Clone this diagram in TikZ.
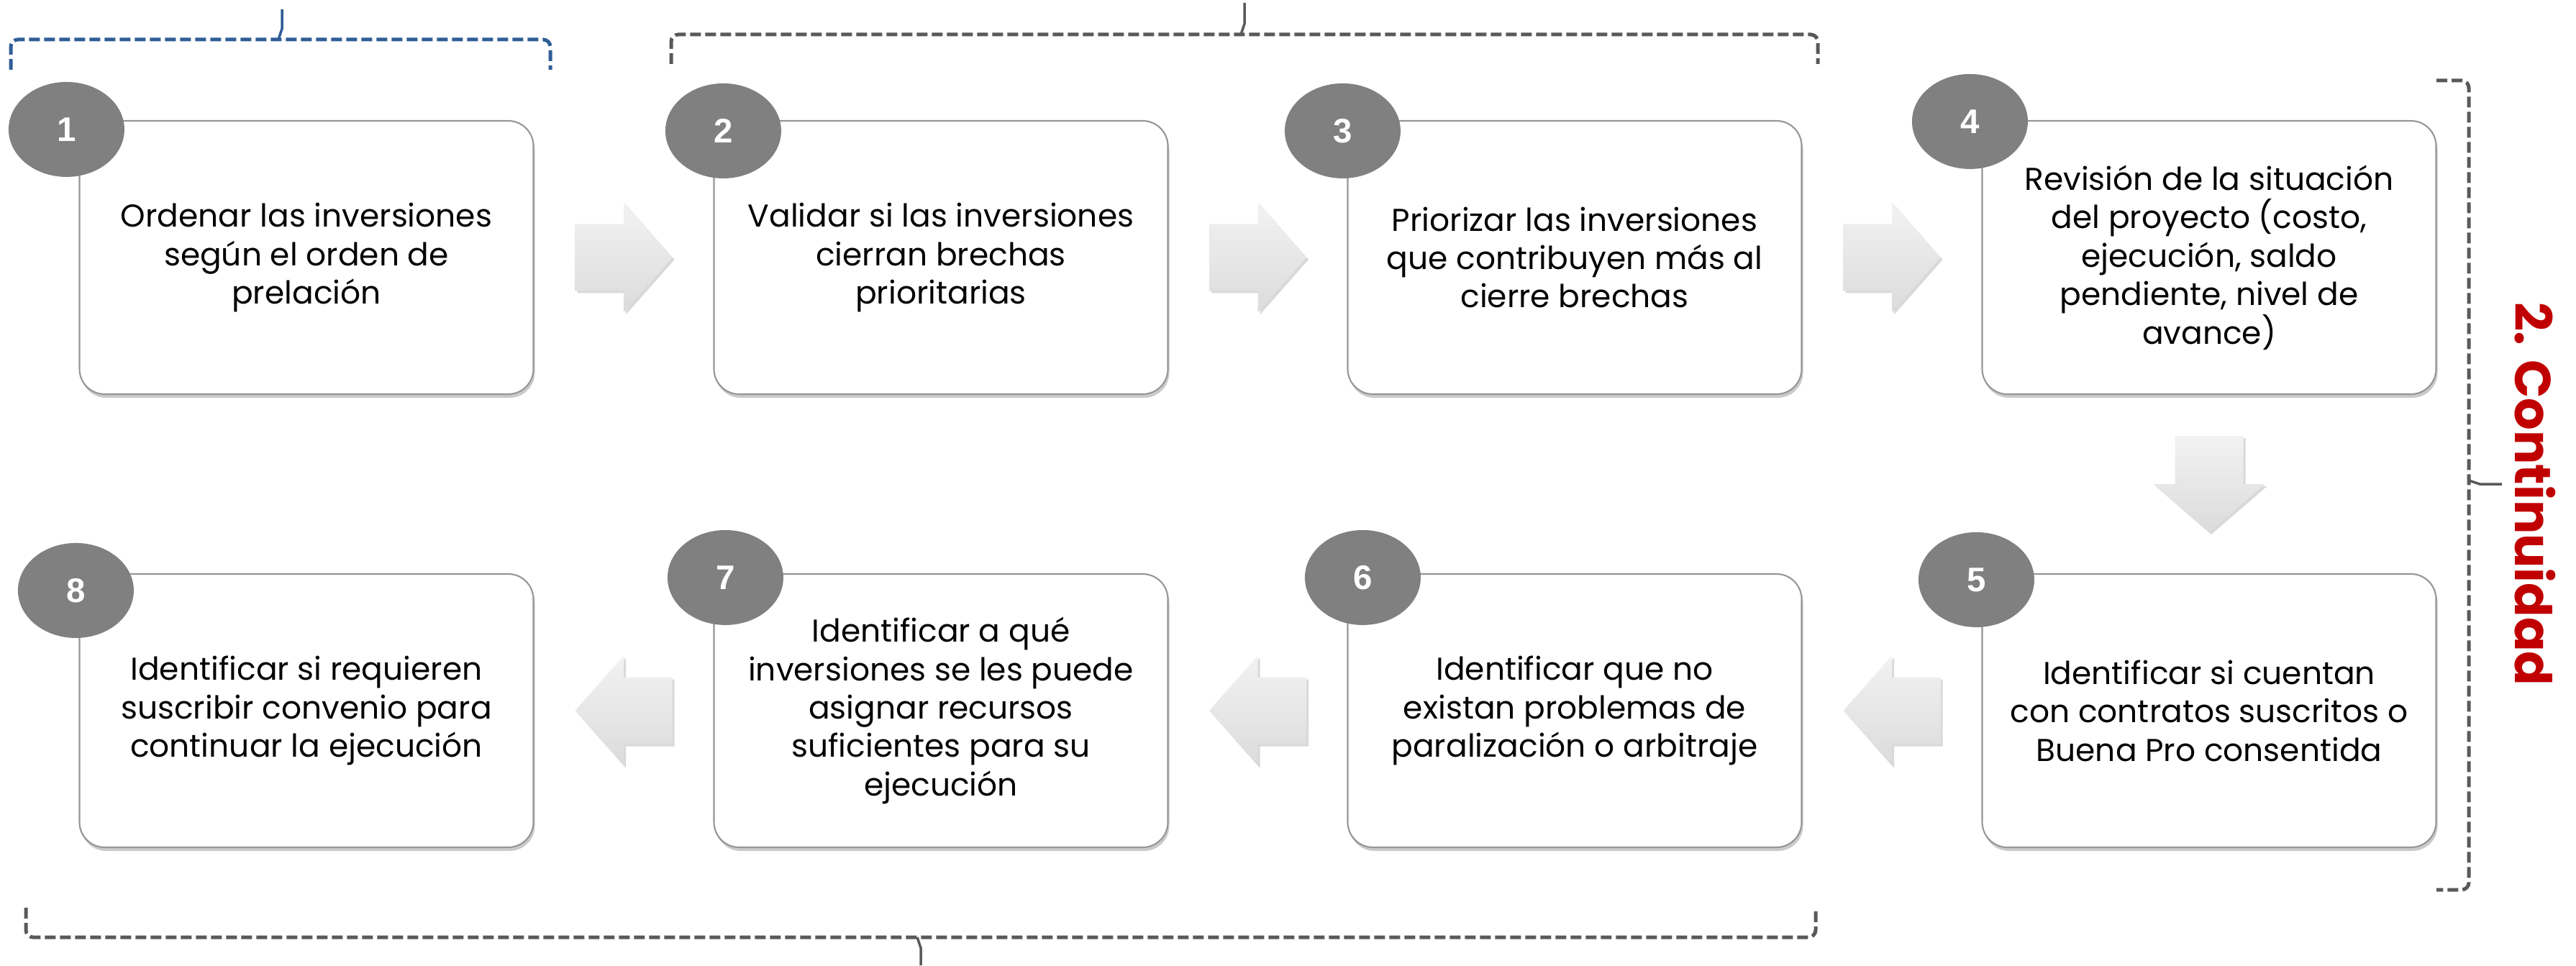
\documentclass[tikz,border=0pt]{standalone}
\usepackage{fontspec}
\setmainfont{Poppins}
\newfontfamily\numfont{Liberation Sans}
\usetikzlibrary{shapes.geometric,shadows,calc}
\definecolor{discgray}{RGB}{128,128,128}
\definecolor{boxline}{RGB}{150,150,150}
\definecolor{bracegray}{RGB}{89,89,89}
\definecolor{braceblue}{RGB}{47,93,150}
\definecolor{titlered}{RGB}{192,0,0}
\tikzset{caja/.style={rectangle,rounded corners=3.5mm,draw=boxline,line width=.6pt,fill=white,
    minimum width=63.1mm,minimum height=38mm,inner sep=0pt,align=center,
    font=\fontsize{12.5}{15.2}\selectfont,
    drop shadow={shadow xshift=.2mm,shadow yshift=-.5mm,opacity=.35,fill=black!60}},
  disco/.style={ellipse,fill=discgray,minimum width=16.1mm,minimum height=13.2mm,inner sep=0pt,
    text=white,font=\numfont\fontsize{13.5}{16}\selectfont\bfseries},
  llave/.style={dash pattern=on 1.5mm off .6mm,line width=.5mm,rounded corners=1mm},
  punta/.style={line width=.35mm},
  flechafill/.style={top color=gray!10,bottom color=gray!28,
    drop shadow={shadow xshift=.3mm,shadow yshift=-.3mm,opacity=.3,fill=black!50}},
  pics/flecha/.style={code={
    \path[flechafill] (-6.75,-4.65) -- (0,-4.65) -- (0,-7.65) -- (6.75,0) -- (0,7.65) -- (0,4.65) -- (-6.75,4.65) -- cycle;}},
  pics/flechabajo/.style={code={
    \path[flechafill] (-4.75,6.7) -- (4.75,6.7) -- (4.75,0) -- (7.75,0) -- (0,-6.7) -- (-7.75,0) -- (-4.75,0) -- cycle;}}}

\begin{document}
\begin{tikzpicture}[x=1mm,y=1mm]
  \path[use as bounding box] (0,0) rectangle (358.1,134.2);
  \node[caja] (b1) at (42.6,98.4) {Ordenar las inversiones\\según el orden de\\prelación};
  \node[caja] (b2) at (130.8,98.4) {Validar si las inversiones\\cierran brechas\\prioritarias};
  \node[caja] (b3) at (218.9,98.4) {Priorizar las inversiones\\que contribuyen más al\\cierre brechas};
  \node[caja] (b4) at (307.1,98.4) {Revisión de la situación\\del proyecto (costo,\\ejecución, saldo\\pendiente, nivel de\\avance)};
  \node[caja] (b5) at (307.1,35.4) {Identificar si cuentan\\con contratos suscritos o\\Buena Pro consentida};
  \node[caja] (b6) at (218.9,35.4) {Identificar que no\\existan problemas de\\paralización o arbitraje};
  \node[caja] (b7) at (130.8,35.4) {Identificar a qué\\inversiones se les puede\\asignar recursos\\suficientes para su\\ejecución};
  \node[caja] (b8) at (42.6,35.4) {Identificar si requieren\\suscribir convenio para\\continuar la ejecución};
  \foreach \i/\dx/\dy in {1/-1.7/-1.3,2/1.4/-1.5,3/-0.6/-1.5,4/-1.6/-0.2,5/-0.7/-0.9,6/2.2/-0.6,7/1.7/-0.6,8/-0.4/-2.4}{
    \node[disco] (n\i) at ($(b\i.north west)+(\dx,\dy)$) {\i};}
  \foreach \a/\b in {1/2,2/3,3/4}{\pic at ($(b\a.east)!.5!(b\b.west)$) {flecha};}
  \foreach \a/\b in {5/6,6/7,7/8}{\pic[xscale=-1] at ($(b\a.west)!.5!(b\b.east)$) {flecha};}
  \pic at ($(b4.south)!.5!(b5.north)$) {flechabajo};
  \draw[llave,draw=braceblue] (1.5,124.5) |- (76.5,128.7) -- (76.5,124.5);
  \draw[punta,draw=braceblue] (38.7,128.7) -- (39.2,130.2) -- (39.2,132.9);
  \draw[llave,draw=bracegray] (93.3,125.3) |- (252.7,129.4) -- (252.7,125.3);
  \draw[punta,draw=bracegray] (172.5,129.4) -- (173.0,130.9) -- (173.0,133.8);
  \draw[llave,draw=bracegray] (3.6,8.0) |- (252.4,3.9) -- (252.4,8.0);
  \draw[punta,draw=bracegray] (127.5,3.9) -- (128.0,2.4) -- (128.0,0);
  \draw[llave,draw=bracegray] (338.7,123.0) -| (343.2,10.5) -- (338.7,10.5);
  \draw[punta,draw=bracegray] (343.2,67.4) -- (344.7,66.9) -- (347.8,66.9);
  \node[rotate=-90,text=titlered,font=\fontsize{20}{24}\selectfont\bfseries] (titulo) at (352.4,65.5) {2. Continuidad};
\end{tikzpicture}
\end{document}
